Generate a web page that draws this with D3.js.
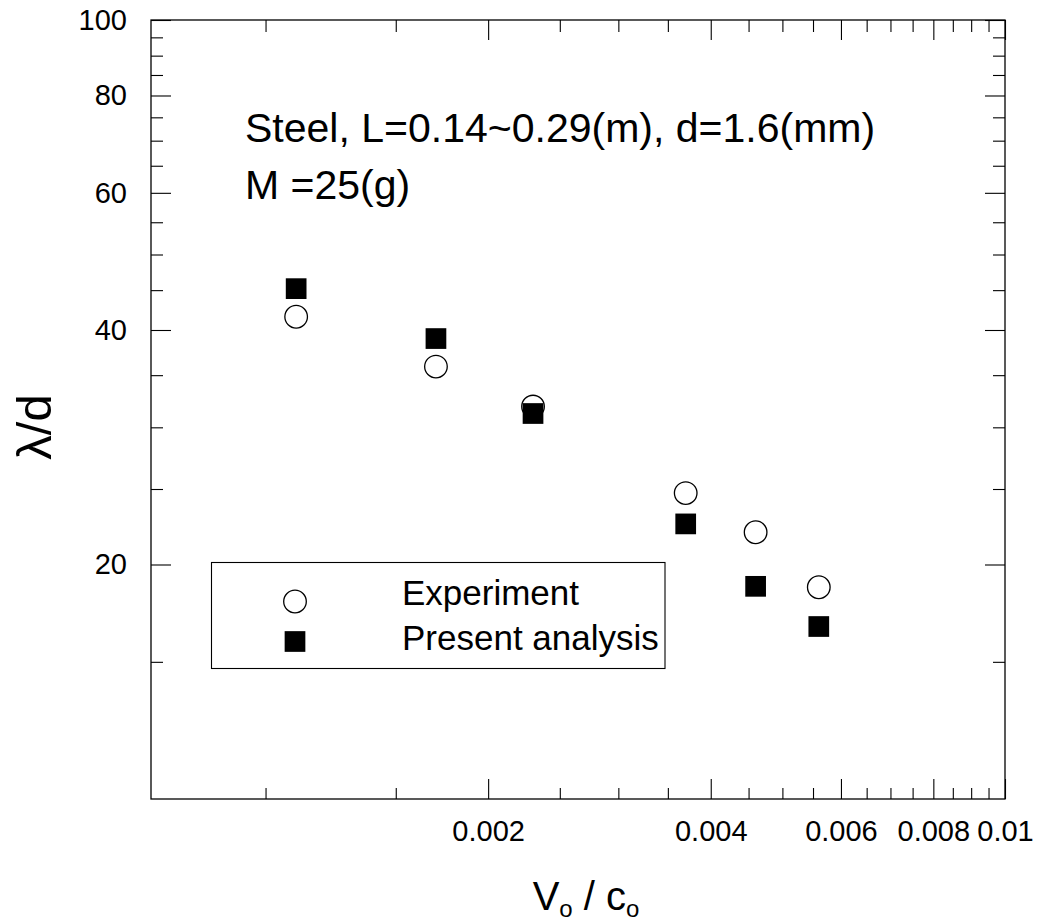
<!DOCTYPE html>
<html>
<head>
<meta charset="utf-8">
<script src="https://cdn.jsdelivr.net/npm/d3@7"></script>
<style>
  html, body { margin: 0; padding: 0; background: #fff; }
  svg { display: block; }
  text { font-family: "Liberation Sans", Arial, Helvetica, sans-serif; fill: #000; }
</style>
</head>
<body>
<svg id="chart" width="1039" height="924"></svg>
<script>
// ---- data ----
const velocityRatio = [0.0011, 0.0017, 0.0023, 0.0037, 0.0046, 0.0056];
const experiment     = [41.6, 35.9, 31.9, 24.7, 22.0, 18.7];
const presentAnalysis = [45.2, 39.0, 31.25, 22.55, 18.75, 16.65];

const xMajorTicks = [0.002, 0.004, 0.006, 0.008, 0.01];
const xTickLabels = ["0.002", "0.004", "0.006", "0.008", "0.01"];
const xMinorTicks = [0.001, 0.0015, 0.0025, 0.003, 0.0035, 0.0045, 0.005, 0.0055,
                     0.0065, 0.007, 0.0075, 0.0085, 0.009, 0.0095];
const yMajorTicks = [20, 40, 60, 80, 100];
const yTickLabels = ["20", "40", "60", "80", "100"];
const yMinorTicks = [15, 25, 30, 35, 45, 50, 55, 65, 70, 75, 85, 90, 95];

const seriesNames = ["Experiment", "Present analysis"];
const annotationLines = ["Steel, L=0.14~0.29(m), d=1.6(mm)", "M =25(g)"];

// ---- layout ----
const L = 151, R = 1005, T = 20, B = 799;
const svg = d3.select("#chart");

const x = d3.scaleLog().domain([0.0007, 0.01]).range([L, R]);
const y = d3.scaleLog().domain([10, 100]).range([B, T]);

const tickFont = 29;

function styleAxis(g) {
  g.select(".domain").remove();
  g.selectAll(".tick line").attr("stroke", "#000").attr("stroke-width", 1.1);
  g.selectAll(".tick text").style("font-size", tickFont + "px").attr("fill", "#000")
    .style("font-family", '"Liberation Sans", Arial, sans-serif');
}

// bottom axis: major with labels
svg.append("g").attr("transform", `translate(0,${B})`)
  .call(d3.axisBottom(x).tickValues(xMajorTicks).tickFormat((d, i) => xTickLabels[i])
        .tickSize(-20).tickPadding(21))
  .call(styleAxis);
svg.append("g").attr("transform", `translate(0,${B})`)
  .call(d3.axisBottom(x).tickValues(xMinorTicks).tickFormat("").tickSize(-11))
  .call(styleAxis);
// top axis
svg.append("g").attr("transform", `translate(0,${T})`)
  .call(d3.axisTop(x).tickValues(xMajorTicks).tickFormat("").tickSize(-20))
  .call(styleAxis);
svg.append("g").attr("transform", `translate(0,${T})`)
  .call(d3.axisTop(x).tickValues(xMinorTicks).tickFormat("").tickSize(-12))
  .call(styleAxis);
// left axis
svg.append("g").attr("transform", `translate(${L},0)`)
  .call(d3.axisLeft(y).tickValues(yMajorTicks).tickFormat((d, i) => yTickLabels[i])
        .tickSize(-20).tickPadding(24))
  .call(styleAxis);
svg.append("g").attr("transform", `translate(${L},0)`)
  .call(d3.axisLeft(y).tickValues(yMinorTicks).tickFormat("").tickSize(-12))
  .call(styleAxis);
// right axis
svg.append("g").attr("transform", `translate(${R},0)`)
  .call(d3.axisRight(y).tickValues(yMajorTicks).tickFormat("").tickSize(-20))
  .call(styleAxis);
svg.append("g").attr("transform", `translate(${R},0)`)
  .call(d3.axisRight(y).tickValues(yMinorTicks).tickFormat("").tickSize(-12))
  .call(styleAxis);

// frame
svg.append("rect").attr("x", L).attr("y", T).attr("width", R - L).attr("height", B - T)
  .attr("fill", "none").attr("stroke", "#000").attr("stroke-width", 1.3);

// axis titles
const xt = svg.append("text").attr("x", 586).attr("y", 910).attr("text-anchor", "middle")
  .style("font-size", "40px");
xt.append("tspan").text("V");
xt.append("tspan").attr("dy", 7).style("font-size", "24px").text("o");
xt.append("tspan").attr("dy", -7).text(" / c");
xt.append("tspan").attr("dy", 7).style("font-size", "24px").text("o");

svg.append("text").attr("transform", "translate(51,427) rotate(-90)")
  .attr("text-anchor", "middle").style("font-size", "49px").text("λ/d");

// annotation
svg.selectAll("text.anno").data(annotationLines).enter().append("text")
  .attr("class", "anno").attr("x", 245).attr("y", (d, i) => 142 + i * 56.5)
  .style("font-size", "41px").text(d => d);

// data points
const pts = velocityRatio.map((v, i) => ({ v, e: experiment[i], p: presentAnalysis[i] }));
svg.selectAll("circle.exp").data(pts).enter().append("circle")
  .attr("class", "exp").attr("cx", d => x(d.v)).attr("cy", d => y(d.e)).attr("r", 11.3)
  .attr("fill", "#fff").attr("stroke", "#000").attr("stroke-width", 1.3);
const sq = 20.7;
svg.selectAll("rect.pa").data(pts).enter().append("rect")
  .attr("class", "pa").attr("x", d => x(d.v) - sq / 2).attr("y", d => y(d.p) - sq / 2)
  .attr("width", sq).attr("height", sq).attr("fill", "#000");

// legend
const lg = svg.append("g");
lg.append("rect").attr("x", 211.5).attr("y", 562.5).attr("width", 453.5).attr("height", 106)
  .attr("fill", "#fff").attr("stroke", "#000").attr("stroke-width", 1.1);
lg.append("circle").attr("cx", 295).attr("cy", 601.5).attr("r", 11.3)
  .attr("fill", "#fff").attr("stroke", "#000").attr("stroke-width", 1.3);
lg.append("rect").attr("x", 295 - sq / 2).attr("y", 641.5 - sq / 2).attr("width", sq).attr("height", sq)
  .attr("fill", "#000");
lg.selectAll("text").data(seriesNames).enter().append("text")
  .attr("x", 402).attr("y", (d, i) => 605 + i * 45).style("font-size", "35px").text(d => d);
</script>
</body>
</html>
